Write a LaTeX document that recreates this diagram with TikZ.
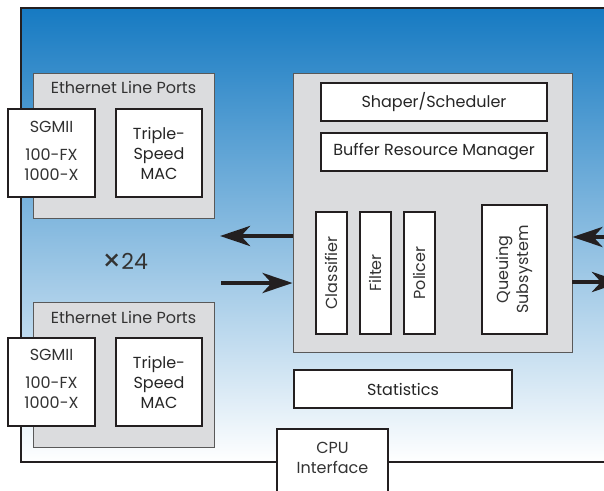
\documentclass[tikz,border=0pt]{standalone}
\usepackage{fontspec}
\setmainfont{Poppins}
\usetikzlibrary{arrows.meta}
\definecolor{gfill}{RGB}{219,220,222}
\definecolor{lk}{RGB}{35,31,32}
\definecolor{btop}{RGB}{22,122,194}
\definecolor{bmid}{RGB}{122,163,214}
\begin{document}
\begin{tikzpicture}[x=1pt,y=-1pt,
  font=\fontsize{16}{20}\selectfont,
  wbox/.style={draw=lk, line width=1.8pt, fill=white, inner sep=0pt, align=center, text=black!85},
  gbox/.style={draw=black!65, line width=0.9pt, fill=gfill, inner sep=0pt},
  arr/.style={line width=4.5pt, draw=lk, -{Stealth[length=30pt,width=20pt,inset=9pt]}},
  lbl/.style={text=black!80, inner sep=0pt, align=center}]
\useasboundingbox (0,0) rectangle (604,490);
% background frame
\shade[top color=btop, middle color=bmid, bottom color=white] (21,8) rectangle (610,462);
\draw[lk, line width=1.8pt] (610,8) -- (21,8) -- (21,462) -- (610,462);
% Ethernet line ports 1
\node[gbox, minimum width=181, minimum height=145] (eth1) at (123.5,145.5) {};
\node[lbl] (eth1t) at (123.5,87) {Ethernet Line Ports};
\node[wbox, minimum width=87, minimum height=88] (sg1) at (51.5,153) {};
\node[lbl] (sg1a) at (51.5,127) {SGMII};
\node[lbl] (sg1b) at (51.5,165) {100-FX\\1000-X};
\node[wbox, minimum width=86, minimum height=88] (mac1) at (159,153) {Triple-\\Speed\\MAC};
% Ethernet line ports 2
\node[gbox, minimum width=181, minimum height=145] (eth2) at (123.5,374.5) {};
\node[lbl] (eth2t) at (123.5,317) {Ethernet Line Ports};
\node[wbox, minimum width=87, minimum height=88] (sg2) at (51.5,382) {};
\node[lbl] (sg2a) at (51.5,355) {SGMII};
\node[lbl] (sg2b) at (51.5,393) {100-FX\\1000-X};
\node[wbox, minimum width=86, minimum height=88] (mac2) at (159,382) {Triple-\\Speed\\MAC};
% x24
\node[lbl, anchor=base] (x24) at (125,269) {\raisebox{-2pt}{\fontsize{30}{30}\selectfont ×}{\fontsize{22}{24}\selectfont 24}};
% central block
\node[gbox, minimum width=279, minimum height=279] (core) at (432.5,212.5) {};
\node[wbox, minimum width=226, minimum height=38] (shaper) at (434,102) {Shaper/Scheduler};
\node[wbox, minimum width=226, minimum height=38] (brm) at (434,152) {Buffer Resource Manager};
\node[wbox, minimum width=31, minimum height=122] (cls) at (331.5,273) {};
\node[lbl, rotate=90] (clst) at (cls) {Classifier};
\node[wbox, minimum width=31, minimum height=122] (flt) at (375.5,273) {};
\node[lbl, rotate=90] (fltt) at (flt) {Filter};
\node[wbox, minimum width=31, minimum height=122] (pol) at (419.5,273) {};
\node[lbl, rotate=90] (polt) at (pol) {Policer};
\node[wbox, minimum width=65, minimum height=129] (que) at (514.5,269.5) {};
\node[lbl, rotate=90] (quet) at (que) {Queuing\\Subsystem};
% statistics
\node[wbox, minimum width=218, minimum height=38] (stat) at (403,389) {Statistics};
% CPU interface
\node[wbox, minimum width=111, minimum height=80, anchor=north] (cpu) at (332.5,428) {};
\node[lbl] (cput) at (332.5,458) {CPU\\Interface};
% arrows
\coordinate (la) at (220,236);
\coordinate (ra) at (221,283);
\coordinate (rin) at (630,237);
\coordinate (rout) at (622,282);
\draw[arr] (core.west |- la) -- (la);
\draw[arr] (ra) -- (core.west |- ra);
\draw[arr] (rin) -- (core.east |- rin);
\draw[arr] (core.east |- rout) -- (rout);
\end{tikzpicture}
\end{document}
